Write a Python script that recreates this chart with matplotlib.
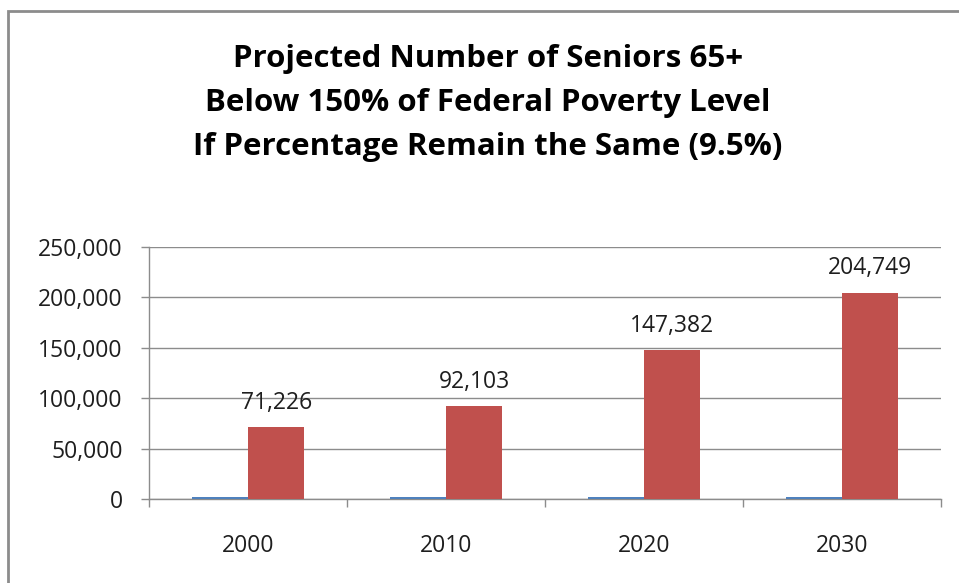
import matplotlib
matplotlib.use("Agg")
import matplotlib.pyplot as plt
from matplotlib.patches import Rectangle
from matplotlib.ticker import FuncFormatter
import numpy as np

# Datos del gráfico
anios = ["2000", "2010", "2020", "2030"]
serie_anio = [2000, 2010, 2020, 2030]          # columna de años graficada como serie
serie_pobreza = [71226, 92103, 147382, 204749]  # seniors 65+ bajo 150% FPL

titulo = ("Projected Number of Seniors 65+\n"
          "Below 150% of Federal Poverty Level\n"
          "If Percentage Remain the Same (9.5%)")

plt.rcParams['font.family'] = ['Open Sans', 'DejaVu Sans']

fig = plt.figure(figsize=(9.59, 5.83), dpi=100)
ax = fig.add_axes([149 / 959, 1 - 499 / 583, 792 / 959, 252 / 583])

x = np.arange(len(anios))
ancho = 0.285
azul = "#4F81BD"
rojo = "#C0504D"
gris = "#8C8C8C"
texto = "#1E1E1E"

ax.bar(x - ancho / 2, serie_anio, ancho, color=azul, zorder=3)
barras = ax.bar(x + ancho / 2, serie_pobreza, ancho, color=rojo, zorder=3)

# Etiquetas de valor solo sobre las barras rojas
for b, v in zip(barras, serie_pobreza):
    ax.annotate(f"{v:,}", (b.get_x() + b.get_width() / 2, v),
                xytext=(0, 9), textcoords="offset points",
                ha="center", va="bottom", fontsize=16.5, color=texto)

ax.set_xlim(-0.5, len(anios) - 0.5)
ax.set_ylim(0, 250000)
ax.set_yticks(np.arange(0, 250001, 50000))
ax.yaxis.set_major_formatter(FuncFormatter(lambda v, p: f"{int(v):,}"))
ax.grid(axis="y", color=gris, linewidth=1, zorder=0)

ax.set_xticks(x)
ax.set_xticklabels(anios)
ax.set_xticks(np.arange(-0.5, len(anios)), minor=True)
ax.tick_params(axis="x", which="major", length=0, pad=25, labelsize=16.5, colors=texto)
ax.tick_params(axis="x", which="minor", length=6, width=1, color=gris)
ax.tick_params(axis="y", length=6, width=1, color=gris, pad=13, labelsize=16.5, labelcolor=texto)

for lado in ["top", "right"]:
    ax.spines[lado].set_visible(False)
for lado in ["left", "bottom"]:
    ax.spines[lado].set_color(gris)
    ax.spines[lado].set_linewidth(1)

fig.text(488 / 959, 1 - 103 / 583, titulo, ha="center", va="center",
         fontsize=22.5, fontweight="bold", linespacing=1.62, color="#000000")

# Marco del área del gráfico
marco = Rectangle((7.5 / 959, -0.1), 1.2, 1 - 10.5 / 583 + 0.1,
                  transform=fig.transFigure, fill=False,
                  edgecolor=gris, linewidth=2)
fig.patches.append(marco)

fig.savefig("out.png", dpi=100)
